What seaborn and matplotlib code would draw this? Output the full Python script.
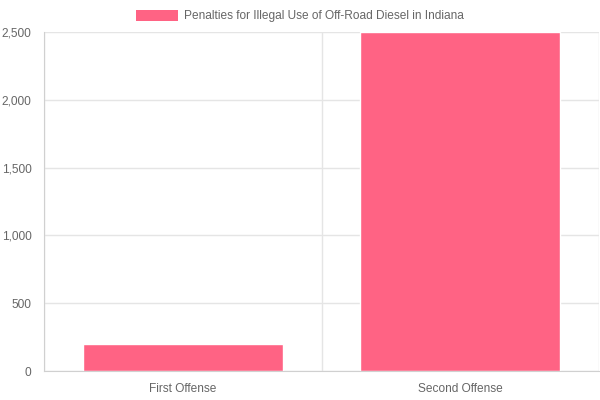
import pandas as pd
import matplotlib
matplotlib.use("Agg")
import matplotlib.pyplot as plt
import seaborn as sns
from matplotlib.patches import Patch
from matplotlib.ticker import FuncFormatter, FixedLocator

# Chart data
categories = ["First Offense", "Second Offense"]
penalties = [200, 2500]
series_label = "Penalties for Illegal Use of Off-Road Diesel in Indiana"

df = pd.DataFrame({"Offense": categories, "Penalty": penalties})

sns.set_style("white")
plt.rcParams["font.family"] = ["Liberation Sans", "DejaVu Sans"]

bar_color = "#ff6384"
grid_color = "#e5e5e5"
text_color = "#666666"
fs = 8.6

fig = plt.figure(figsize=(6, 4), dpi=100)
ax = fig.add_axes([44 / 600, 29 / 400, 555 / 600, 339 / 400])

sns.barplot(data=df, x="Offense", y="Penalty", color=bar_color,
            width=0.72, saturation=1, ax=ax)

ax.set_xlim(-0.5, 1.5)
ax.set_ylim(0, 2500)
ax.set_yticks(range(0, 2501, 500))
ax.yaxis.set_major_formatter(FuncFormatter(lambda v, p: f"{int(v):,}"))

# vertical grid at category boundaries
ax.xaxis.set_minor_locator(FixedLocator([-0.5, 0.5, 1.5]))
ax.tick_params(axis="x", which="major", length=0, pad=9, labelsize=fs, labelcolor=text_color)
ax.tick_params(axis="x", which="minor", length=6, color=grid_color, width=1)
ax.tick_params(axis="y", which="major", length=6, color=grid_color, width=1,
               pad=3, labelsize=fs, labelcolor=text_color)
ax.grid(True, axis="y", which="major", color=grid_color, linewidth=1)
ax.grid(True, axis="x", which="minor", color=grid_color, linewidth=1)
ax.set_axisbelow(True)

for s in ax.spines.values():
    s.set_visible(False)
ax.spines["bottom"].set_visible(True)
ax.spines["bottom"].set_color("#d0d0d0")
ax.spines["left"].set_visible(True)
ax.spines["left"].set_color("#d0d0d0")

ax.set_xlabel("")
ax.set_ylabel("")

handle = Patch(facecolor=bar_color, edgecolor="none")
fig.legend([handle], [series_label], loc="center", bbox_to_anchor=(0.5, 0.96),
           frameon=False, fontsize=fs, labelcolor=text_color,
           handlelength=3.5, handleheight=1.1, handletextpad=0.5)

fig.savefig("out.png", dpi=100)
